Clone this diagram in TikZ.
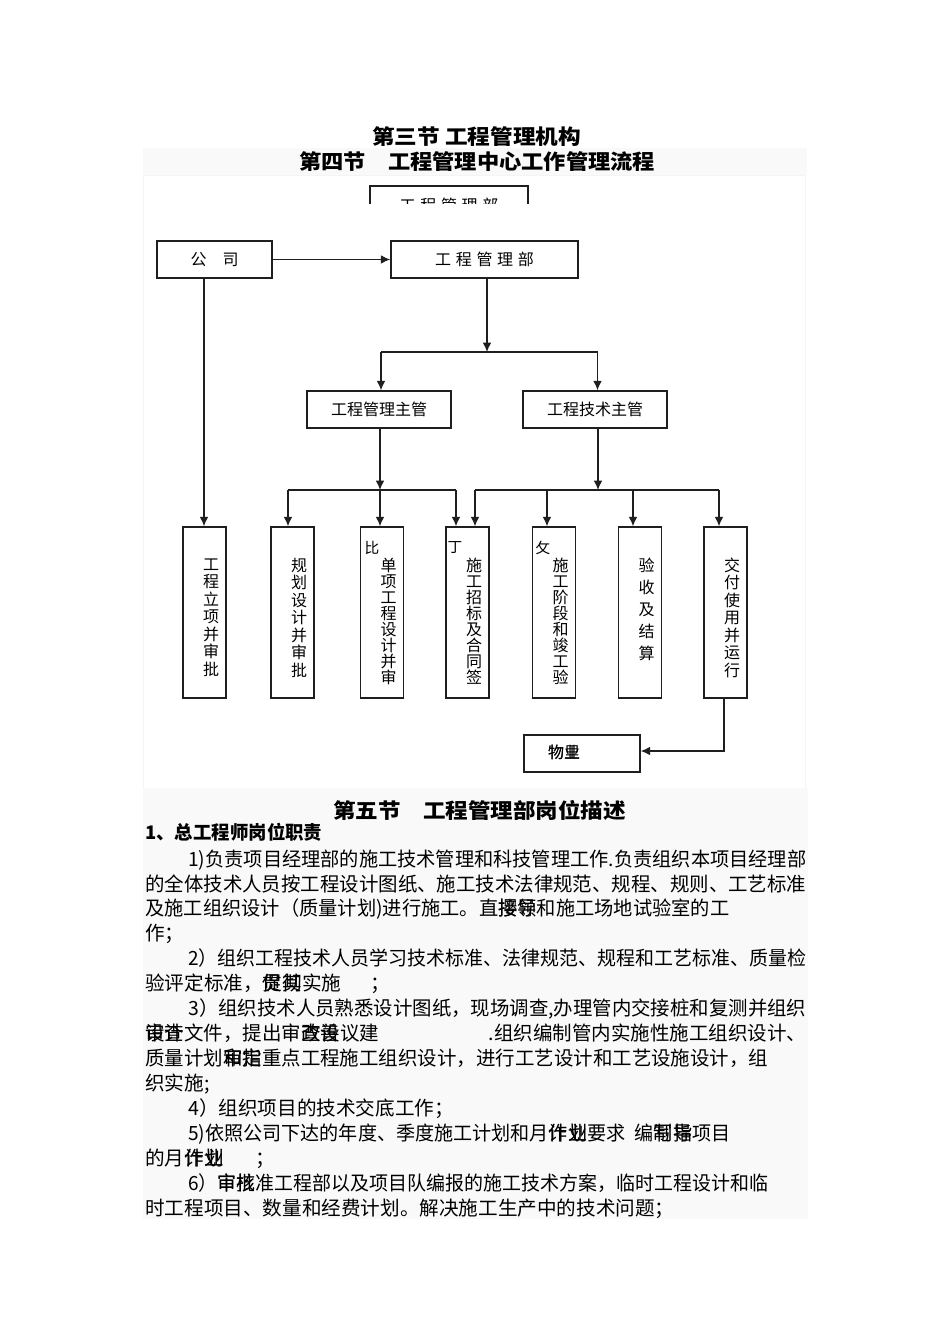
\documentclass[tikz,border=0pt]{standalone}
\usepackage{fontspec}
\usepackage{graphicx}
\setmainfont{Noto Sans CJK SC}
\usetikzlibrary{arrows.meta}
\newcommand\ovl[2]{\rlap{#1}#2}
\newcommand\fitw[2]{\resizebox{\dimexpr #1pt*3/4\relax}{\height}{#2}}
\definecolor{bandA}{gray}{0.978}
\definecolor{bandB}{gray}{0.955}
\definecolor{ink}{gray}{0.12}
\begin{document}
\lineskiplimit=-100pt
\begin{tikzpicture}[x=0.75pt,y=-0.75pt,
  bx/.style 2 args={draw=ink,line width=1.1pt,fill=white,inner sep=0pt,minimum width=#1*0.75pt,minimum height=#2*0.75pt,font=\fontsize{12pt}{14pt}\selectfont},
  conn/.style={draw=ink,line width=1pt},
  arr/.style={conn,-{Latex[length=7pt,width=6.5pt]}},
  vt/.style={inner sep=0pt,align=center,font=\fontsize{12pt}{#1}\selectfont},
  small/.style={inner sep=0pt,font=\fontsize{11pt}{13pt}\selectfont},
  body/.style={anchor=west,inner sep=0pt,font=\fontsize{14.7pt}{17pt}\selectfont,text height=12.2pt,text depth=1pt},
  head/.style={inner sep=0pt,font=\fontsize{15.5pt}{18pt}\selectfont\bfseries}]
\fill[white] (0,0) rectangle (950,1344);
\useasboundingbox (0,0) rectangle (950,1344);
\fill[bandA] (143,148) rectangle (807,175);
\draw[bandB,line width=0.5pt] (143,175) rectangle (805,788);
\fill[bandA] (143,788) rectangle (808,1219);

% titles
\node[head] (t1) at (476.5,137) {\fitw{209}{第三节 工程管理机构}};
\node[head] (t2) at (477,162) {\fitw{356}{第四节\hspace{1em}工程管理中心工作管理流程}};

% partial box cut off
\begin{scope}
\clip (360,180) rectangle (540,204);
\node[bx={158}{38}] (pb) at (449,205) {工\hspace{3.5pt}程\hspace{3.5pt}管\hspace{3.5pt}理\hspace{3.5pt}部};
\end{scope}

% boxes
\node[bx={115}{37}] (gs) at (214.5,259.5) {公\hspace{1em}司};
\node[bx={187}{37}] (gcb) at (484.5,259.5) {工\hspace{3.5pt}程\hspace{3.5pt}管\hspace{3.5pt}理\hspace{3.5pt}部};
\node[bx={144}{37}] (zg1) at (379,409.5) {工程管理主管};
\node[bx={144}{37}] (zg2) at (595,409.5) {工程技术主管};
\node[bx={43}{171}] (b1) at (204.5,612.5) {};
\node[bx={43}{171}] (b2) at (292.5,612.5) {};
\node[bx={43}{171}] (b3) at (382,612.5) {};
\node[bx={43}{171}] (b4) at (467.5,612.5) {};
\node[bx={43}{171}] (b5) at (554,612.5) {};
\node[bx={43}{171}] (b6) at (640,612.5) {};
\node[bx={43}{171}] (b7) at (725.5,612.5) {};
\node[bx={116}{37}] (wy) at (582,753.5) {};
\node[small,font=\fontsize{12pt}{14pt}\selectfont] (wyt) at (564,752) {\ovl{物}{物}\ovl{业}{里}};

% vertical texts
\node[vt=13.125pt] (v1) at (211,617.5) {工\\程\\立\\项\\并\\审\\批};
\node[vt=13.125pt] (v2) at (299,617.5) {规\\划\\设\\计\\并\\审\\批};
\node[vt=12pt] (v3) at (388.5,621) {单\\项\\工\\程\\设\\计\\并\\审};
\node[vt=12pt] (v4) at (474,621) {施\\工\\招\\标\\及\\合\\同\\签};
\node[vt=12pt] (v5) at (560.5,621) {施\\工\\阶\\段\\和\\竣\\工\\验};
\node[vt=16.5pt] (v6) at (646.5,609) {验\\收\\及\\结\\算};
\node[vt=13.125pt] (v7) at (732,617.5) {交\\付\\使\\用\\并\\运\\行};
\node[small] (s3) at (372,548) {比};
\node[small] (s4) at (455,548) {丁};
\node[small] (s5) at (543,548) {攵};

% connectors
\draw[arr] (gs) -- (gcb);
\coordinate (j1) at (487,352);
\coordinate (j1l) at (381,352);
\coordinate (j1r) at (597.5,352);
\draw[arr] (j1 |- gcb.south) -- (j1);
\draw[conn] (j1l) -- (j1r);
\draw[arr] (j1l) -- (j1l |- zg1.north);
\draw[arr] (j1r) -- (j1r |- zg2.north);
\coordinate (c1) at (204,300);
\draw[arr] (c1 |- gs.south) -- (c1 |- b1.north);

\coordinate (j2) at (380,490);
\coordinate (j2a) at (288,490);
\coordinate (j2b) at (456,490);
\draw[arr] (j2 |- zg1.south) -- (j2);
\draw[conn] (j2a) -- (j2b);
\draw[arr] (j2a) -- (j2a |- b2.north);
\draw[arr] (j2) -- (j2 |- b3.north);
\draw[arr] (j2b) -- (j2b |- b4.north);

\coordinate (j3) at (598,490);
\coordinate (j3a) at (475,490);
\coordinate (j3c) at (547,490);
\coordinate (j3d) at (633,490);
\coordinate (j3b) at (719,490);
\draw[arr] (j3 |- zg2.south) -- (j3);
\draw[conn] (j3a) -- (j3b);
\draw[arr] (j3a) -- (j3a |- b4.north);
\draw[arr] (j3c) -- (j3c |- b5.north);
\draw[arr] (j3d) -- (j3d |- b6.north);
\draw[arr] (j3b) -- (j3b |- b7.north);

\coordinate (k) at (724,751);
\draw[arr] (k |- b7.south) -- (k) -- (k -| wy.east);

% section 5
\node[head] (h5) at (479.5,810) {\fitw{293}{第五节\hspace{1em}工程管理部岗位描述}};
\node[head,anchor=west,font=\fontsize{14pt}{17pt}\selectfont\bfseries] (h51) at (145,832) {\fitw{177}{1、总工程师岗位职责}};

\node[body] (l1) at (188,859) {\fitw{618}{1)负责项目经理部的施工技术管理和科技管理工作.负责组织本项目经理部}};
\node[body] (l2) at (145,884) {\fitw{661}{的全体技术人员按工程设计图纸、施工技术法律规范、规程、规则、工艺标准}};
\node[body] (l3) at (145,908) {\fitw{584}{及施工组织设计（质量计划)进行施工。直\ovl{接}{撄}\ovl{领}{导}和施工场地试验室的工}};
\node[body] (l4) at (145,933) {作；};
\node[body] (l5) at (188,958) {\fitw{618}{2）组织工程技术人员学习技术标准、法律规范、规程和工艺标准、质量检}};
\node[body] (l6) at (145,983) {验评定标准，\ovl{促}{贯}\ovl{其}{彻}实施\hspace{1.5em}；};
\node[body] (l7) at (188,1008) {\fitw{618}{3）组织技术人员熟悉设计图纸，现场调查,办理管内交接桩和复测并组织}};
\node[body] (l8) at (145,1033) {\fitw{661}{\ovl{设}{审}\ovl{计}{查}文件，提出审\ovl{查}{改}\ovl{善}{设}议建\hspace{5.6em}.组织编制管内实施性施工组织设计、}};
\node[body] (l9) at (145,1058) {\fitw{623}{质量计划\ovl{和}{审}\ovl{指}{定}重点工程施工组织设计，进行工艺设计和工艺设施设计，组}};
\node[body] (l10) at (145,1083) {织实施;};
\node[body] (l11) at (188,1108) {4）组织项目的技术交底工作；};
\node[body] (l12) at (188,1133) {\fitw{542}{5)依照公司下达的年度、季度施工计划和月\ovl{作}{计}\ovl{业}{划}要求\hspace{0.5em}编\ovl{制}{写}\ovl{指}{导}项目}};
\node[body] (l13) at (145,1158) {的月\ovl{作}{计}\ovl{业}{划}\hspace{1.6em}；};
\node[body] (l14) at (188,1183) {\fitw{580}{6）\ovl{审}{审}\ovl{批}{核}准工程部以及项目队编报的施工技术方案，临时工程设计和临}};
\node[body] (l15) at (145,1208) {时工程项目、数量和经费计划。解决施工生产中的技术问题；};
\end{tikzpicture}
\end{document}
